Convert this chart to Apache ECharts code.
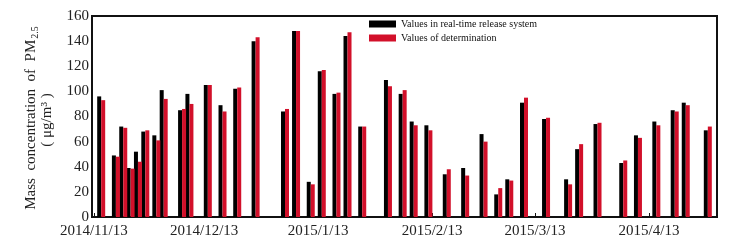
<!DOCTYPE html>
<html>
<head>
<meta charset="utf-8">
<script src="https://cdn.jsdelivr.net/npm/echarts@6/dist/echarts.min.js"></script>
<style>
  html, body { margin: 0; padding: 0; background: #fff; }
  #main { width: 729px; height: 252px; }
</style>
</head>
<body>
<div id="main"></div>
<script>
// sampling days and PM2.5 values (ug/m3)
const sampleDates = [
  '2014/11/15', '2014/11/19', '2014/11/21', '2014/11/23', '2014/11/25', '2014/11/27', '2014/11/30',
  '2014/12/2', '2014/12/7', '2014/12/9', '2014/12/14', '2014/12/18', '2014/12/22', '2014/12/27',
  '2015/1/4', '2015/1/7', '2015/1/11', '2015/1/14', '2015/1/18', '2015/1/21', '2015/1/25',
  '2015/2/1', '2015/2/5', '2015/2/8', '2015/2/12', '2015/2/17', '2015/2/22', '2015/2/27',
  '2015/3/3', '2015/3/6', '2015/3/10', '2015/3/16', '2015/3/22', '2015/3/25', '2015/3/30',
  '2015/4/6', '2015/4/10', '2015/4/15', '2015/4/20', '2015/4/23', '2015/4/29'
];
const realtimeValues = [
  96, 49, 72, 39, 52, 68, 65,
  101, 85, 98, 105, 89, 102, 140,
  84, 148, 28, 116, 98, 144, 72,
  109, 98, 76, 73, 34, 39, 66,
  18, 30, 91, 78, 30, 54, 74,
  43, 65, 76, 85, 91, 69
];
const measuredValues = [
  93, 48, 71, 38.5, 44, 69, 61,
  94, 86, 90, 105, 84, 103, 143,
  86, 148, 26, 117, 99, 147, 72,
  104, 101, 73, 69, 38, 33, 60,
  23, 29, 95, 79, 26, 58, 75,
  45, 63, 73, 84, 89, 72
];
const tickDay = 13;

// one category per day, 2014/11/13 .. 2015/5/1
const days = [];
const d0 = new Date(2014, 10, 13);
for (let i = 0; i < 170; i++) {
  const d = new Date(d0.getFullYear(), d0.getMonth(), d0.getDate() + i);
  days.push(d.getFullYear() + '/' + (d.getMonth() + 1) + '/' + d.getDate());
}
const realtimeData = days.map(() => null);
const measuredData = days.map(() => null);
sampleDates.forEach((s, i) => {
  const k = days.indexOf(s);
  realtimeData[k] = realtimeValues[i];
  measuredData[k] = measuredValues[i];
});
const onTick = (idx, val) => val.split('/')[2] === String(tickDay);

const serif = 'Liberation Serif';
const chart = echarts.init(document.getElementById('main'));
chart.setOption({
  animation: false,
  grid: {
    left: 92, right: 12, top: 16, bottom: 35,
    show: true, borderColor: '#111', borderWidth: 2
  },
  legend: {
    orient: 'vertical',
    left: 369, top: 18, padding: 0,
    itemWidth: 27, itemHeight: 7, itemGap: 2,
    icon: 'rect',
    textStyle: { fontFamily: serif, fontSize: 10, color: '#111', lineHeight: 12 },
    data: ['Values in real-time release system', 'Values of determination']
  },
  xAxis: {
    type: 'category',
    data: days,
    boundaryGap: true,
    axisLine: { lineStyle: { color: '#111', width: 2 } },
    axisTick: { show: true, inside: true, length: 4, interval: onTick, alignWithLabel: true, lineStyle: { color: '#111' } },
    axisLabel: { interval: onTick, fontFamily: serif, fontSize: 15, color: '#222', margin: 7 }
  },
  yAxis: {
    type: 'value',
    min: 0, max: 160, interval: 20,
    axisLine: { show: true, lineStyle: { color: '#111', width: 2 } },
    axisTick: { show: false },
    splitLine: { show: false },
    axisLabel: { fontFamily: serif, fontSize: 15, color: '#222', margin: 3 }
  },
  graphic: [
    {
      type: 'text', x: 31, y: 118, rotation: Math.PI / 2,
      style: {
        text: '{a|Mass  concentration  of  PM}{s|2.5}',
        align: 'center', verticalAlign: 'middle',
        rich: {
          a: { fontFamily: serif, fontSize: 15, fill: '#222', lineHeight: 17 },
          s: { fontFamily: serif, fontSize: 10, fill: '#222', padding: [8, 0, 0, 1] }
        }
      }
    },
    {
      type: 'text', x: 47, y: 120, rotation: Math.PI / 2,
      style: {
        text: '( μg/m³ )',
        align: 'center', verticalAlign: 'middle',
        font: '15px "Liberation Serif"', fill: '#222'
      }
    }
  ],
  series: [
    {
      name: 'Values in real-time release system',
      type: 'bar',
      data: realtimeData,
      barWidth: 4,
      barGap: '0%',
      itemStyle: { color: '#000' }
    },
    {
      name: 'Values of determination',
      type: 'bar',
      data: measuredData,
      barWidth: 4,
      itemStyle: { color: '#d2102a' }
    }
  ]
});
</script>
</body>
</html>
